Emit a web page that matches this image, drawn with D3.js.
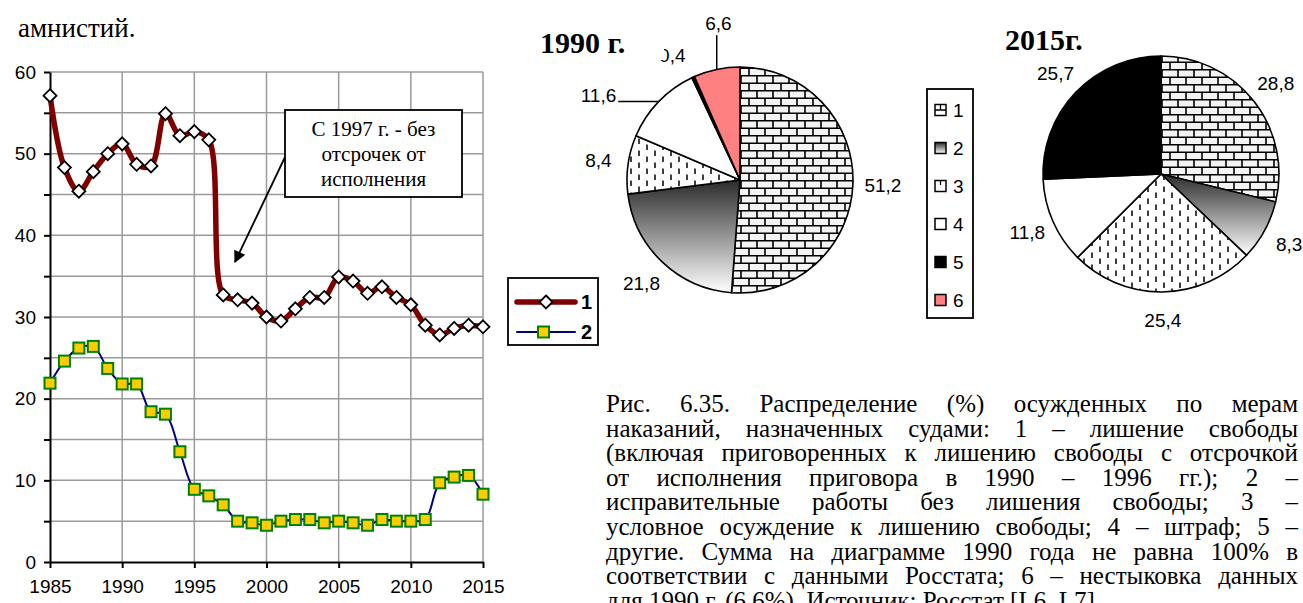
<!DOCTYPE html>
<html>
<head>
<meta charset="utf-8">
<script src="https://cdn.jsdelivr.net/npm/d3@7"></script>
<style>
  body { margin: 0; background: #fff; }
  svg { display: block; }
</style>
</head>
<body>
<svg id="fig" width="1303" height="603"></svg>
<script>
// ---- data -------------------------------------------------------------
const years = [1985, 1986, 1987, 1988, 1989, 1990, 1991, 1992, 1993, 1994, 1995, 1996,
  1997, 1998, 1999, 2000, 2001, 2002, 2003, 2004, 2005, 2006, 2007, 2008, 2009, 2010,
  2011, 2012, 2013, 2014, 2015];
// 1 - imprisonment, % of convicted
const imprisonment = [57.1, 48.3, 45.4, 47.8, 50.0, 51.2, 48.7, 48.5, 54.9, 52.2, 52.7, 51.7,
  32.7, 32.1, 31.7, 30.0, 29.5, 31.0, 32.4, 32.4, 34.9, 34.4, 32.9, 33.7, 32.4, 31.5,
  29.0, 27.8, 28.6, 29.0, 28.8];
// 2 - correctional labour, % of convicted
const correctionalLabour = [21.9, 24.6, 26.2, 26.4, 23.7, 21.8, 21.8, 18.4, 18.1, 13.5, 8.9, 8.1,
  7.0, 5.0, 4.8, 4.5, 5.0, 5.2, 5.2, 4.8, 5.0, 4.8, 4.5, 5.2, 5.0, 5.0,
  5.2, 9.7, 10.4, 10.6, 8.3];
const yTicks = [0, 5, 10, 15, 20, 25, 30, 35, 40, 45, 50, 55, 60];
const xTicks = [1985, 1990, 1995, 2000, 2005, 2010, 2015];
const lineSeriesNames = ["1", "2"];

const pieCategories = ["1", "2", "3", "4", "5", "6"];
const shares1990 = [51.2, 21.8, 8.4, 11.6, 0.4, 6.6];
const shares2015 = [28.8, 8.3, 25.4, 11.8, 25.7, 0];
const pieTitles = ["1990 г.", "2015г."];

const noteLines = ["С 1997 г. - без", "отсрочек от", "исполнения"];
const leadText = "амнистий.";
const captionLines = [
  "Рис. 6.35. Распределение (%) осужденных по мерам",
  "наказаний, назначенных судами: 1 – лишение свободы",
  "(включая приговоренных к лишению свободы с отсрочкой",
  "от исполнения приговора в 1990 – 1996 гг.); 2 –",
  "исправительные работы без лишения свободы; 3 –",
  "условное осуждение к лишению свободы; 4 – штраф; 5 –",
  "другие. Сумма на диаграмме 1990 года не равна 100% в",
  "соответствии с данными Росстата; 6 – нестыковка данных",
  "для 1990 г. (6,6%). Источник: Росстат [L6, L7]."
];

// ---- setup ------------------------------------------------------------
const SANS = "'Liberation Sans', Arial, sans-serif";
const SERIF = "'Liberation Serif', 'Times New Roman', serif";
const svg = d3.select("#fig");
svg.append("rect").attr("width", 1303).attr("height", 603).attr("fill", "#fff");
const defs = svg.append("defs");

// brick hatch
const brick = defs.append("pattern").attr("id", "brick")
  .attr("patternUnits", "userSpaceOnUse").attr("width", 16).attr("height", 15);
brick.append("rect").attr("width", 16).attr("height", 15).attr("fill", "#f4f4f4");
brick.append("path").attr("stroke", "#000").attr("stroke-width", 1.6).attr("fill", "none")
  .attr("d", "M0,0.8H16M0,8.3H16M1,0.8V8.3M9,8.3V15");

// short vertical dashes
const dash = defs.append("pattern").attr("id", "dash")
  .attr("patternUnits", "userSpaceOnUse").attr("width", 16).attr("height", 12);
dash.append("rect").attr("width", 16).attr("height", 12).attr("fill", "#fff");
dash.append("path").attr("stroke", "#000").attr("stroke-width", 1.5).attr("fill", "none")
  .attr("d", "M3,0.5V6M11,6.5V12");

// dark-to-white vertical gradient
const grad = defs.append("linearGradient").attr("id", "grad")
  .attr("x1", 0).attr("y1", 0).attr("x2", 0).attr("y2", 1);
grad.append("stop").attr("offset", "0%").attr("stop-color", "#2b2b2b");
grad.append("stop").attr("offset", "100%").attr("stop-color", "#ffffff");

// arrow head
defs.append("marker").attr("id", "arrow").attr("viewBox", "0 0 10 10")
  .attr("refX", 9).attr("refY", 5).attr("markerUnits", "userSpaceOnUse")
  .attr("markerWidth", 16).attr("markerHeight", 12).attr("orient", "auto")
  .append("path").attr("d", "M0,0L10,5L0,10Z").attr("fill", "#000");

// ---- lead paragraph fragment -------------------------------------------
svg.append("text").attr("x", 18).attr("y", 37)
  .attr("font-family", SERIF).attr("font-size", 27).text(leadText);

// ---- line chart ---------------------------------------------------------
const x = d3.scaleLinear().domain([1985, 2015]).range([50, 483]);
const y = d3.scaleLinear().domain([0, 60]).range([562, 72]);
const lc = svg.append("g");

lc.append("g").selectAll("line").data(xTicks.filter(v => v > 1985)).join("line")
  .attr("x1", d => x(d)).attr("x2", d => x(d)).attr("y1", y(0)).attr("y2", y(60))
  .attr("stroke", "#9a9a9a").attr("stroke-width", 1.5);
lc.append("g").selectAll("line").data(yTicks.filter(v => v > 0)).join("line")
  .attr("x1", x(1985)).attr("x2", x(2015)).attr("y1", d => y(d)).attr("y2", d => y(d))
  .attr("stroke", "#9a9a9a").attr("stroke-width", 1.5);

function styleAxis(g) {
  g.select(".domain").attr("stroke", "#000").attr("stroke-width", 2);
  g.selectAll(".tick line").attr("stroke", "#000").attr("stroke-width", 2);
  g.selectAll(".tick text").attr("fill", "#000");
  g.attr("font-family", SANS).attr("font-size", 19);
}
lc.append("g").attr("transform", `translate(${x(1985)},0)`)
  .call(d3.axisLeft(y).tickValues(yTicks).tickSize(6).tickSizeOuter(0).tickPadding(8)
    .tickFormat(d => d % 10 === 0 ? d : ""))
  .call(styleAxis);
lc.append("g").attr("transform", `translate(0,${y(0)})`)
  .call(d3.axisBottom(x).tickValues(xTicks).tickSize(6).tickSizeOuter(0).tickPadding(12)
    .tickFormat(d3.format("d")))
  .call(styleAxis);

const smooth = d3.line().curve(d3.curveCatmullRom.alpha(0.5))
  .x((d, i) => x(years[i])).y(d => y(d));

lc.append("path").datum(correctionalLabour).attr("d", smooth)
  .attr("fill", "none").attr("stroke", "#000080").attr("stroke-width", 2);
lc.append("path").datum(imprisonment).attr("d", smooth)
  .attr("fill", "none").attr("stroke", "#800000").attr("stroke-width", 5.5);

const diamond = h => `M0,${-h}L${h},0L0,${h}L${-h},0Z`;
lc.append("g").selectAll("path").data(imprisonment).join("path")
  .attr("transform", (d, i) => `translate(${x(years[i])},${y(d)})`)
  .attr("d", diamond(6.5)).attr("fill", "#fff").attr("stroke", "#000").attr("stroke-width", 1.8);
lc.append("g").selectAll("rect").data(correctionalLabour).join("rect")
  .attr("x", (d, i) => x(years[i]) - 5.5).attr("y", d => y(d) - 5.5)
  .attr("width", 11).attr("height", 11)
  .attr("fill", "#ffcc00").attr("stroke", "#008000").attr("stroke-width", 2);

// note box with arrow
const note = svg.append("g");
note.append("line").attr("x1", 286).attr("y1", 155).attr("x2", 235).attr("y2", 262)
  .attr("stroke", "#000").attr("stroke-width", 1.8).attr("marker-end", "url(#arrow)");
note.append("rect").attr("x", 285).attr("y", 110).attr("width", 177).attr("height", 87)
  .attr("fill", "#fff").attr("stroke", "#000").attr("stroke-width", 1.8);
note.append("g").selectAll("text").data(noteLines).join("text")
  .attr("x", 373.5).attr("y", (d, i) => 136 + i * 25)
  .attr("text-anchor", "middle").attr("font-family", SERIF).attr("font-size", 21)
  .text(d => d);

// line legend
const ll = svg.append("g");
ll.append("rect").attr("x", 508).attr("y", 278).attr("width", 90).attr("height", 67)
  .attr("fill", "#fff").attr("stroke", "#000").attr("stroke-width", 1.8);
const llItems = ll.selectAll("g").data(lineSeriesNames).join("g")
  .attr("transform", (d, i) => `translate(0,${302 + i * 30})`);
llItems.append("line").attr("x1", 517).attr("x2", 575)
  .attr("stroke", (d, i) => i === 0 ? "#800000" : "#000080")
  .attr("stroke-width", (d, i) => i === 0 ? 5.5 : 2).attr("stroke-linecap", "round");
llItems.filter((d, i) => i === 0).append("path")
  .attr("transform", "translate(546,0)").attr("d", diamond(6.5))
  .attr("fill", "#fff").attr("stroke", "#000").attr("stroke-width", 1.8);
llItems.filter((d, i) => i === 1).append("rect")
  .attr("x", 538).attr("y", -5.5).attr("width", 11).attr("height", 11)
  .attr("fill", "#ffcc00").attr("stroke", "#008000").attr("stroke-width", 2);
llItems.append("text").attr("x", 581).attr("dy", "0.36em")
  .attr("font-family", SANS).attr("font-weight", "bold").attr("font-size", 20).text(d => d);

// ---- pies ---------------------------------------------------------------
const sliceFill = ["url(#brick)", "url(#grad)", "url(#dash)", "#fff", "#000", "#ff8080"];
const fmt = v => d3.format(".1f")(v).replace(".", ",");
const pieGen = d3.pie().sort(null).value(d => d);

function polar(angle, rad) {
  return [Math.sin(angle) * rad, -Math.cos(angle) * rad];
}

function drawPie(values, cx, cy, r, labelR, overrides) {
  const g = svg.append("g").attr("transform", `translate(${cx},${cy})`);
  const arcs = pieGen(values);
  const arc = d3.arc().innerRadius(0).outerRadius(r);
  g.selectAll("path").data(arcs.filter(a => a.value > 0)).join("path")
    .attr("d", arc).attr("fill", d => sliceFill[d.index])
    .attr("stroke", "#000").attr("stroke-width", 1.6).attr("stroke-linejoin", "round");

  arcs.filter(a => a.value > 0).forEach(a => {
    const mid = (a.startAngle + a.endAngle) / 2;
    const o = overrides[a.index] || {};
    const ang = mid + (o.dAngle || 0) * Math.PI / 180;
    const [lx, ly] = polar(ang, o.r || labelR);
    const t = g.append("text").attr("x", lx).attr("y", ly).attr("dy", "0.35em")
      .attr("text-anchor", "middle").attr("font-family", SANS).attr("font-size", 19)
      .text(fmt(a.value));
    if (o.leader) {
      const bb = t.node().getBBox();
      const [px, py] = polar(mid, r);
      const qx = Math.max(bb.x - 2, Math.min(px, bb.x + bb.width + 2));
      const qy = Math.max(bb.y - 1, Math.min(py, bb.y + bb.height + 1));
      g.append("line").attr("x1", px).attr("y1", py).attr("x2", qx).attr("y2", qy)
        .attr("stroke", "#000").attr("stroke-width", 1.5);
    }
  });
  return g;
}

drawPie(shares1990, 740, 180, 113, 143, {
  3: { r: 165, dAngle: -13, leader: true },
  4: { r: 142, dAngle: -4 },
  5: { r: 158, dAngle: 4, leader: true }
});
drawPie(shares2015, 1161, 174, 118, 146, {});

// pie titles (the 1990 title sits on an opaque box)
svg.append("rect").attr("x", 536).attr("y", 26).attr("width", 128).attr("height", 34).attr("fill", "#fff");
svg.append("text").attr("x", 540).attr("y", 53)
  .attr("font-family", SERIF).attr("font-weight", "bold").attr("font-size", 30).text(pieTitles[0]);
svg.append("text").attr("x", 1005).attr("y", 50)
  .attr("font-family", SERIF).attr("font-weight", "bold").attr("font-size", 30).text(pieTitles[1]);

// pie legend
const pl = svg.append("g");
pl.append("rect").attr("x", 927).attr("y", 89).attr("width", 46).attr("height", 229)
  .attr("fill", "#fff").attr("stroke", "#000").attr("stroke-width", 1.8);
const plItems = pl.selectAll("g").data(pieCategories).join("g")
  .attr("transform", (d, i) => `translate(935,${110 + i * 38})`);
plItems.append("rect").attr("x", 0).attr("y", -5.5).attr("width", 11).attr("height", 11)
  .attr("fill", (d, i) => i === 0 || i === 2 ? "#fff" : sliceFill[i])
  .attr("stroke", "#000").attr("stroke-width", 1.5);
plItems.filter((d, i) => i === 0).append("path")
  .attr("d", "M0,0H11M5.5,-5.5V0").attr("stroke", "#000").attr("stroke-width", 1.3);
plItems.filter((d, i) => i === 2).append("path")
  .attr("d", "M5.5,-5.5V-1").attr("stroke", "#000").attr("stroke-width", 1.3);
plItems.append("text").attr("x", 18).attr("dy", "0.36em")
  .attr("font-family", SANS).attr("font-size", 19).text(d => d);

// ---- justified caption --------------------------------------------------
const capX = 606, capW = 692, capSize = 25, capTop = 412, capStep = 24.6;
const cap = svg.append("g").attr("font-family", SERIF).attr("font-size", capSize);
const rows = captionLines.map((line, i) => {
  const words = line.split(" ");
  const nodes = words.map(w => cap.append("text").attr("y", capTop + i * capStep).text(w));
  const widths = nodes.map(n => n.node().getComputedTextLength());
  return { nodes, widths, sum: d3.sum(widths), last: i === captionLines.length - 1 };
});
const minGap = capSize * 0.25;
const squeeze = Math.min(1, d3.min(rows.filter(r => !r.last),
  r => (capW - (r.nodes.length - 1) * minGap) / r.sum));
rows.forEach(r => {
  const n = r.nodes.length;
  const gap = r.last ? minGap : (capW - r.sum * squeeze) / (n - 1);
  let cx = capX;
  r.nodes.forEach((node, k) => {
    const w = r.widths[k] * squeeze;
    node.attr("x", cx);
    if (squeeze < 1) node.attr("textLength", w).attr("lengthAdjust", "spacingAndGlyphs");
    cx += w + gap;
  });
});
</script>
</body>
</html>
